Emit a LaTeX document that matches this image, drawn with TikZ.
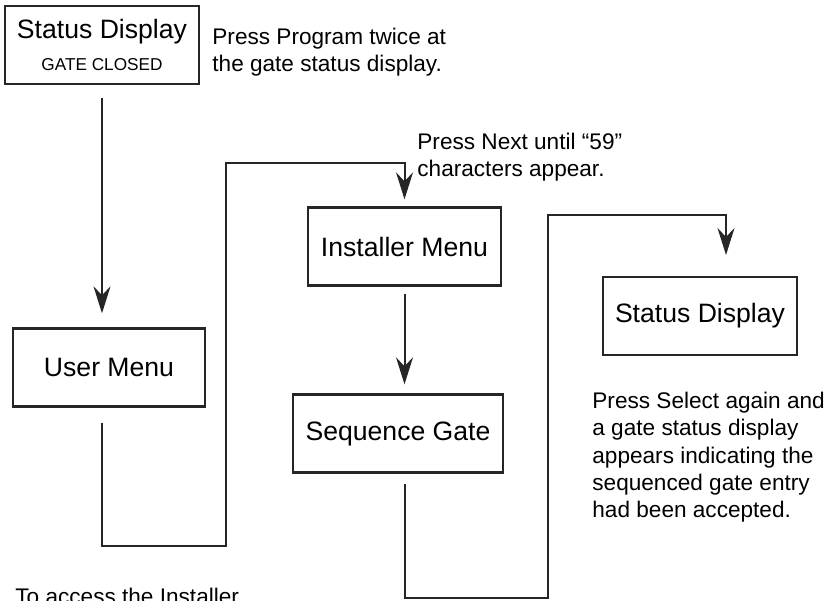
\documentclass[tikz,border=0pt]{standalone}
\usepackage{fontspec}
\setmainfont{Liberation Sans}
\usetikzlibrary{arrows.meta,positioning}

\begin{document}
\begin{tikzpicture}[
    x=0.5pt,
    y=-0.5pt,
    >={Stealth[length=13.5pt,width=8.5pt,inset=4.5pt]},
    menubox/.style={
        draw=black!85,
        line width=1.2pt,
        inner sep=0pt,
        align=center,
        minimum height=39pt,
        font=\fontsize{13.3}{16}\selectfont
    },
    flow/.style={->,line width=1pt,draw=black!85},
    note/.style={
        anchor=north west,
        inner sep=0pt,
        align=left,
        font=\fontsize{11.3}{13.6}\selectfont
    }
]

\useasboundingbox (0,0) rectangle (828,600);
\clip (0,0) rectangle (828,600);

% ---------------------------------------------------------
% Menu boxes
% ---------------------------------------------------------

\node[menubox,minimum width=97pt] (sdtop) at (102,45)
{Status Display\\{\fontsize{8.6}{10}\selectfont GATE CLOSED}};

\node[menubox,minimum width=96pt] (usermenu) at (109,367.5)
{User Menu};

\node[menubox,minimum width=96.5pt] (instmenu) at (404.5,246.5)
{Installer Menu};

\node[menubox,minimum width=105pt] (seqgate) at (398,433.5)
{Sequence Gate};

\node[menubox,minimum width=97pt] (sdend) at (700,316)
{Status Display};

% ---------------------------------------------------------
% Routing corners
% ---------------------------------------------------------

\coordinate (lowL)  at (226,546);
\coordinate (highL) at (226,163);
\coordinate (lowR)  at (548,598);
\coordinate (highR) at (548,215);
\coordinate (tipR)  at (726,255);

% ---------------------------------------------------------
% Connectors
% ---------------------------------------------------------

\draw[flow,shorten <=6.5pt,shorten >=7pt]
    (sdtop.south) -- (sdtop.south |- usermenu.north);

\draw[flow,shorten <=7.5pt,shorten >=3.5pt]
    (sdtop.south |- usermenu.south) |- (lowL)
    -- (highL) -| (instmenu.north);

\draw[flow,shorten <=3.5pt,shorten >=4.5pt]
    (instmenu.south) -- (instmenu.south |- seqgate.north);

\draw[flow,shorten <=5pt]
    (instmenu.south |- seqgate.south) |- (lowR)
    -- (highR) -| (tipR);

% ---------------------------------------------------------
% Instructions
% ---------------------------------------------------------

\node[note] (prognote) at (212,28)
{Press Program twice at\\the gate status display.};

\node[note] (nextnote) at (417,133)
{Press Next until “59”\\characters appear.};

\node[note] (selnote) at (592,392)
{Press Select again and\\a gate status display\\appears indicating the\\sequenced gate entry\\had been accepted.};

\node[note] (accnote) at (15,588)
{To access the Installer};

\end{tikzpicture}
\end{document}
